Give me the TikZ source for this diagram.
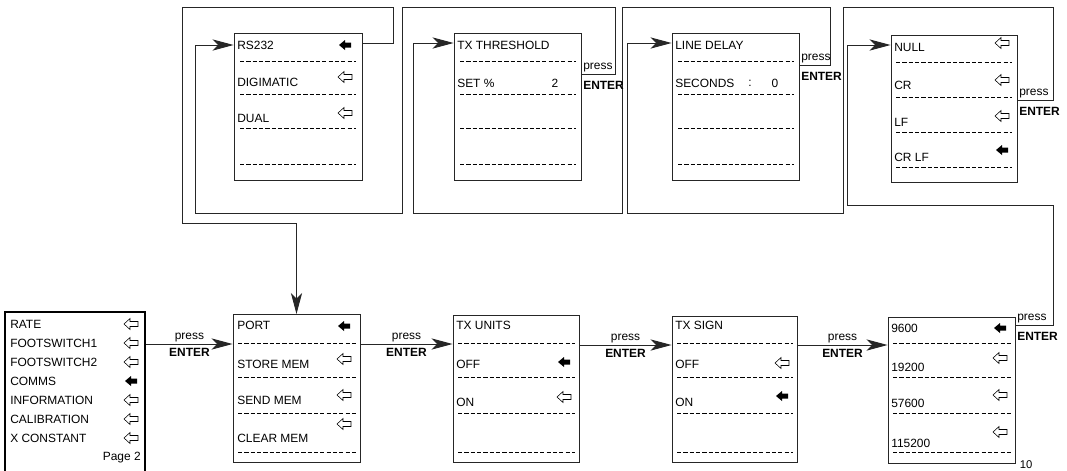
\documentclass[tikz,border=0pt]{standalone}
\usepackage{fontspec}
\setmainfont{Liberation Sans}
\usetikzlibrary{arrows.meta,fit,positioning}

\newcommand{\itemsize}{\fontsize{8.5}{10}\selectfont}
\newcommand{\entersize}{\fontsize{8.5}{10}\selectfont\bfseries}

\tikzset{
  menu/.style={draw=black!85,line width=0.6pt,inner sep=0pt},
  mainmenu/.style={draw,line width=1.8pt,inner sep=0pt},
  item/.style={anchor=west,inner sep=0pt,font=\itemsize},
  dashsep/.style={line width=0.6pt,dash pattern=on 3pt off 1.5pt},
  link/.style={line width=0.7pt,draw=black!85},
  flow/.style={link,-{Stealth[length=15pt,width=8pt,inset=4pt]}},
  presstxt/.style={inner sep=1pt,font=\itemsize},
  entertxt/.style={inner sep=1pt,font=\entersize},
  selarrow/.pic={\fill (-6,0) -- (0,-5) -- (0,-2.5) -- (6,-2.5) -- (6,2.5) -- (0,2.5) -- (0,5) -- cycle;},
  offarrow/.pic={\draw[line width=0.4pt,fill=white] (-7,0) -- (-1,-5.5) -- (-1,-2.5) -- (7,-2.5) -- (7,2.5) -- (-1,2.5) -- (-1,5.5) -- cycle;}
}

\begin{document}
\begin{tikzpicture}[x=0.025cm,y=-0.025cm]
\useasboundingbox (0,0) rectangle (1067,470);

% main menu, page 2
\node[mainmenu,fit={(5,312) (145,478)}] (main) {};
\foreach \t/\y [count=\i] in {RATE/324,FOOTSWITCH1/343,FOOTSWITCH2/362,COMMS/381,INFORMATION/400,CALIBRATION/419,X CONSTANT/438}
  \node[item] (main-\i) at (10,\y) {\t};
\foreach \y in {324,343,362,400,419,438} \pic at (131,\y) {offarrow};
\pic at (131,381) {selarrow};
\node[item,anchor=east] (main-page) at (141,458) {Page 2};

% bottom row
\node[menu,fit={(233,314) (360,462)}] (port) {};
\foreach \t/\y [count=\i] in {PORT/325,STORE MEM/364,SEND MEM/400,CLEAR MEM/438}
  \node[item] (port-\i) at (237,\y) {\t};
\foreach \y in {343,377,413,452} \draw[dashsep] (238,\y) -- (356,\y);
\pic at (344,326) {selarrow};
\foreach \y in {359,395,424} \pic at (344,\y) {offarrow};

\node[menu,fit={(453,315) (579,462)}] (txunits) {};
\foreach \t/\y [count=\i] in {TX UNITS/325,OFF/364,ON/402}
  \node[item] (txunits-\i) at (456,\y) {\t};
\foreach \y in {343,377,413,452} \draw[dashsep] (458,\y) -- (575,\y);
\pic at (564,362) {selarrow};
\pic at (564,397) {offarrow};

\node[menu,fit={(672,316) (797,462)}] (txsign) {};
\foreach \t/\y [count=\i] in {TX SIGN/325,OFF/364,ON/402}
  \node[item] (txsign-\i) at (675,\y) {\t};
\foreach \y in {343,377,413,452} \draw[dashsep] (677,\y) -- (793,\y);
\pic at (782,363) {offarrow};
\pic at (782,396) {selarrow};

\node[menu,fit={(888,317) (1015,463)}] (baud) {};
\foreach \t/\y [count=\i] in {9600/328,19200/367,57600/403,115200/443}
  \node[item] (baud-\i) at (891,\y) {\t};
\foreach \y in {343,377,413,452} \draw[dashsep] (893,\y) -- (1011,\y);
\pic at (1000,328) {selarrow};
\foreach \y in {358,395,432} \pic at (1000,\y) {offarrow};

% top row
\node[menu,fit={(234,33) (362,180)}] (rsport) {};
\foreach \t/\y [count=\i] in {RS232/45,DIGIMATIC/82,DUAL/118}
  \node[item] (rsport-\i) at (237,\y) {\t};
\foreach \y in {61,94,128,164} \draw[dashsep] (240,\y) -- (356,\y);
\pic at (345,45) {selarrow};
\foreach \y in {77,113} \pic at (345,\y) {offarrow};

\node[menu,fit={(454,33) (581,180)}] (thresh) {};
\node[item] (thresh-1) at (457,45) {TX THRESHOLD};
\node[item] (thresh-2) at (457,83) {SET \%};
\node[item,anchor=center] (thresh-val) at (555,83) {2};
\foreach \y in {61,94,128,164} \draw[dashsep] (460,\y) -- (576,\y);

\node[menu,fit={(672,33) (799,180)}] (delay) {};
\node[item] (delay-1) at (675,45) {LINE DELAY};
\node[item] (delay-2) at (675,83) {SECONDS};
\node[item,anchor=center] (delay-colon) at (750,83) {:};
\node[item,anchor=center] (delay-val) at (775,83) {0};
\foreach \y in {61,94,128,164} \draw[dashsep] (678,\y) -- (794,\y);

\node[menu,fit={(891,35) (1017,182)}] (term) {};
\foreach \t/\y [count=\i] in {NULL/47,CR/85,LF/122,CR LF/157}
  \node[item] (term-\i) at (894,\y) {\t};
\foreach \y in {62,97,132,167} \draw[dashsep] (896,\y) -- (1012,\y);
\foreach \y in {43,80,116} \pic at (1002,\y) {offarrow};
\pic at (1002,150) {selarrow};

% press ENTER steps along the bottom
\draw[flow] (main.east |- 0,344) -- (port.west |- 0,344)
  node[presstxt,midway,above] (press-1) {press}
  node[entertxt,midway,below=2pt] (enter-1) {ENTER};
\draw[flow] (port.east |- 0,344) -- (txunits.west |- 0,344)
  node[presstxt,midway,above] (press-2) {press}
  node[entertxt,midway,below=2pt] (enter-2) {ENTER};
\draw[flow] (txunits.east |- 0,345) -- (txsign.west |- 0,345)
  node[presstxt,midway,above] (press-3) {press}
  node[entertxt,midway,below=2pt] (enter-3) {ENTER};
\draw[flow] (txsign.east |- 0,345) -- (baud.west |- 0,345)
  node[presstxt,midway,above] (press-4) {press}
  node[entertxt,midway,below=2pt] (enter-4) {ENTER};

% loops back through the top row
\draw[flow] (baud.east |- 0,325)
  node[presstxt,anchor=south west] (press-5) {press}
  node[entertxt,anchor=north west,yshift=-4pt] (enter-5) {ENTER}
  -| (1053,205) -| (847,45) -- (term.west |- 0,45);
\draw[flow] (term.east |- 0,100)
  node[presstxt,anchor=south west] (press-6) {press}
  node[entertxt,anchor=north west,yshift=-4pt] (enter-6) {ENTER}
  -| (1053,7) -| (843,213) -| (627,43) -- (delay.west |- 0,43);
\draw[flow] (delay.east |- 0,65)
  node[presstxt,anchor=south west] (press-7) {press}
  node[entertxt,anchor=north west,yshift=-4pt] (enter-7) {ENTER}
  -| (830,7) -| (622,213) -| (413,43) -- (thresh.west |- 0,43);
\draw[flow] (thresh.east |- 0,74)
  node[presstxt,anchor=south west] (press-8) {press}
  node[entertxt,anchor=north west,yshift=-4pt] (enter-8) {ENTER}
  -| (615,7) -| (402,213) -| (195,45) -- (rsport.west |- 0,45);
\draw[flow] (rsport.east |- 0,43) -| (393,7) -| (182,223) -| (port.north |- 0,314);

\node[font=\fontsize{8}{9}\selectfont,anchor=south,inner sep=0pt] (pagenum) at (1026,469) {10};
\end{tikzpicture}
\end{document}
